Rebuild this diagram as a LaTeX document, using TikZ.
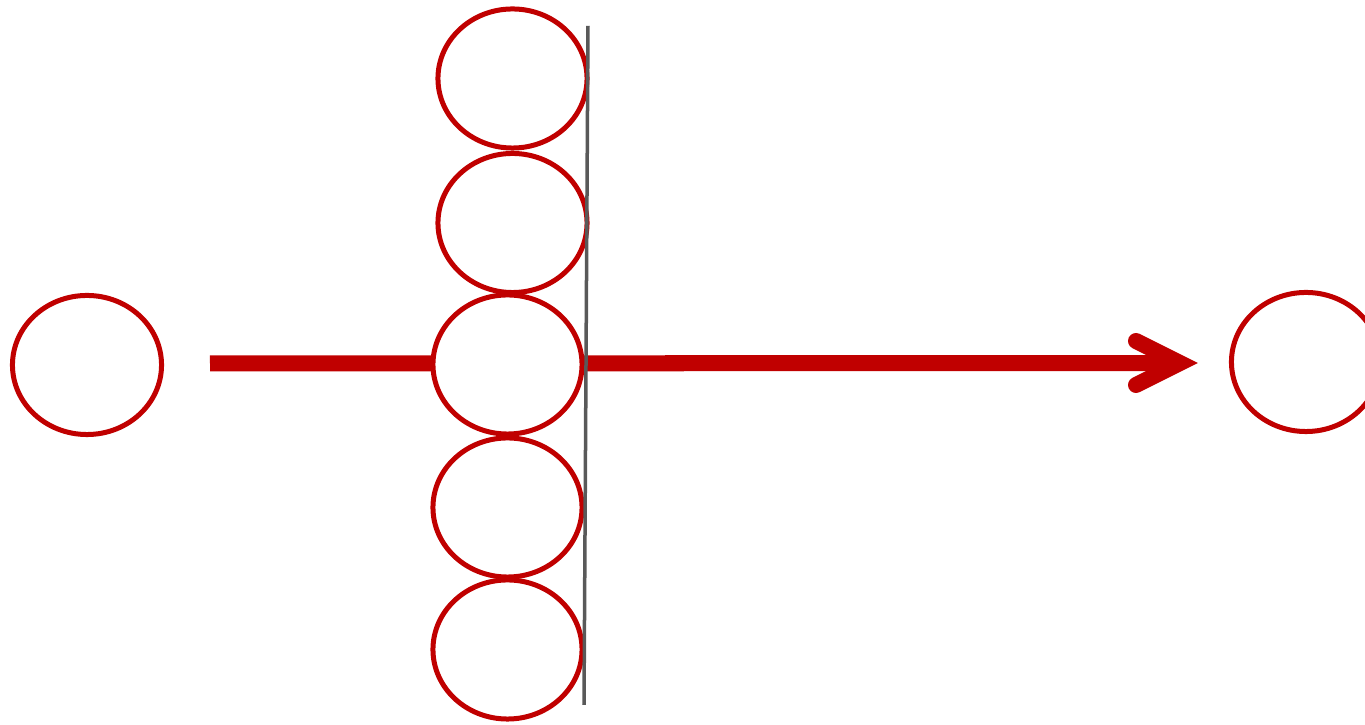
\documentclass[tikz,border=0pt]{standalone}
\usetikzlibrary{shapes.geometric}
\definecolor{dred}{HTML}{C00000}
\definecolor{dgray}{HTML}{595959}
\begin{document}
\begin{tikzpicture}[x=0.01cm,y=-0.01cm,
  ring/.style={ellipse,draw=dred,line width=0.05cm,fill=white,inner sep=0pt,
    minimum width=1.49cm,minimum height=1.39cm},
  shaft/.style={draw=dred,line width=0.16cm},
  chev/.style={draw=dred,line width=0.16cm,line cap=round,line join=miter},
  wall/.style={draw=dgray,line width=0.035cm}]
\useasboundingbox (0,0) rectangle (1365,725);
\coordinate (start) at (210,363.5);
\coordinate (tip) at (1180,363);
\coordinate (armA) at (1136,341);
\coordinate (armB) at (1136,385);
\coordinate (wtop) at (588,26);
\coordinate (wbot) at (584,705);
\draw[shaft] (start) -- (tip);
\draw[chev] (armA) -- (tip) -- (armB);
\node[ring] (src) at (87,365) {};
\node[ring] (c1) at (512.5,78.5) {};
\node[ring] (c2) at (512.5,223) {};
\node[ring] (c3) at (507.5,364.5) {};
\node[ring] (c4) at (507.5,507.5) {};
\node[ring] (c5) at (507.5,649.5) {};
\node[ring] (dst) at (1306,362) {};
\draw[wall] (wtop) -- (wbot);
\end{tikzpicture}
\end{document}
